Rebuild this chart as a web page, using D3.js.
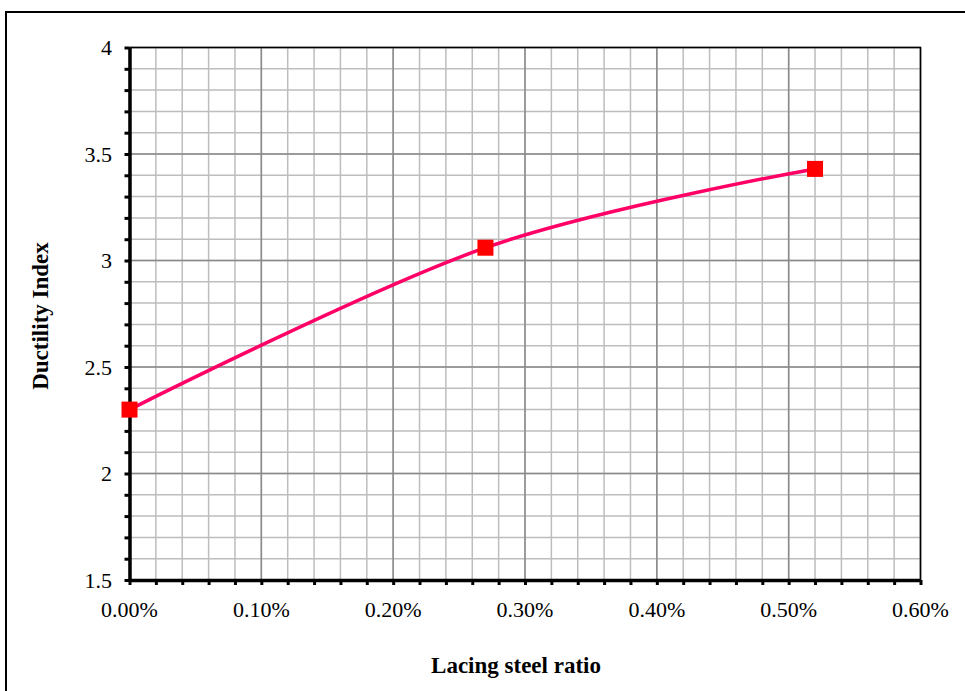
<!DOCTYPE html>
<html>
<head>
<meta charset="utf-8">
<script src="https://cdn.jsdelivr.net/npm/d3@7"></script>
<style>
  html, body { margin: 0; padding: 0; background: #fff; }
  svg { display: block; }
</style>
</head>
<body>
<svg id="chart" width="965" height="691"></svg>
<script>
// Lacing steel ratio (fraction) vs ductility index
const ratios = [0.0, 0.0027, 0.0052];
const ductility = [2.30, 3.06, 3.43];
const xTicks = [0, 0.001, 0.002, 0.003, 0.004, 0.005, 0.006];
const yTicks = [1.5, 2, 2.5, 3, 3.5, 4];
const xTitle = "Lacing steel ratio";
const yTitle = "Ductility Index";

const svg = d3.select("#chart");
const font = "'Liberation Serif', 'Times New Roman', serif";

// outer frame
svg.append("rect")
  .attr("x", 6).attr("y", 12).attr("width", 980).attr("height", 700)
  .attr("fill", "none").attr("stroke", "#000").attr("stroke-width", 2);

const plotL = 129.5, plotR = 920.5, plotT = 47.5, plotB = 580;
const x = d3.scaleLinear().domain([0, 0.006]).range([plotL, plotR]);
const y = d3.scaleLinear().domain([1.5, 4]).range([plotB, plotT]);

const minorX = d3.range(0, 0.00601, 0.0002);
const minorY = d3.range(1.5, 4.001, 0.1);

const grid = svg.append("g");
// minor grid
grid.append("g").selectAll("line").data(minorX).join("line")
  .attr("x1", d => x(d)).attr("x2", d => x(d))
  .attr("y1", plotT).attr("y2", plotB)
  .attr("stroke", "#bdbdbd").attr("stroke-width", 1.5);
grid.append("g").selectAll("line").data(minorY).join("line")
  .attr("y1", d => y(d)).attr("y2", d => y(d))
  .attr("x1", plotL).attr("x2", plotR)
  .attr("stroke", "#bdbdbd").attr("stroke-width", 1.5);
// major grid
grid.append("g").selectAll("line").data(xTicks).join("line")
  .attr("x1", d => x(d)).attr("x2", d => x(d))
  .attr("y1", plotT).attr("y2", plotB)
  .attr("stroke", "#8a8a8a").attr("stroke-width", 1.5);
grid.append("g").selectAll("line").data(yTicks).join("line")
  .attr("y1", d => y(d)).attr("y2", d => y(d))
  .attr("x1", plotL).attr("x2", plotR)
  .attr("stroke", "#8a8a8a").attr("stroke-width", 1.5);

// plot frame top/right
svg.append("path")
  .attr("d", `M${plotL},${plotT}H${plotR}V${plotB}`)
  .attr("fill", "none").attr("stroke", "#000").attr("stroke-width", 1.5);

// x axis
const xAxis = d3.axisBottom(x).tickValues(minorX).tickSize(5).tickSizeOuter(0).tickFormat("");
const gx = svg.append("g").attr("transform", `translate(0,${plotB})`).call(xAxis);
gx.select(".domain").attr("stroke-width", 3.5);
gx.selectAll(".tick line").attr("stroke-width", 3);
svg.append("g").selectAll("text").data(xTicks).join("text")
  .attr("x", d => x(d)).attr("y", 617)
  .attr("text-anchor", "middle")
  .attr("font-family", font).attr("font-size", 22)
  .text(d => d3.format(".2%")(d));

// y axis
const yAxis = d3.axisLeft(y).tickValues(minorY).tickSize(5).tickSizeOuter(0).tickFormat("");
const gy = svg.append("g").attr("transform", `translate(${plotL},0)`).call(yAxis);
gy.select(".domain").attr("stroke-width", 3.5);
gy.selectAll(".tick line").attr("stroke-width", 3);
svg.append("g").selectAll("text").data(yTicks).join("text")
  .attr("x", 112).attr("y", d => y(d) + 7.5)
  .attr("text-anchor", "end")
  .attr("font-family", font).attr("font-size", 22)
  .text(d => d3.format("")(d));

// titles
svg.append("text")
  .attr("x", 516).attr("y", 673)
  .attr("text-anchor", "middle")
  .attr("font-family", font).attr("font-size", 23).attr("font-weight", "bold")
  .text(xTitle);
svg.append("text")
  .attr("transform", "translate(48,316) rotate(-90)")
  .attr("text-anchor", "middle")
  .attr("font-family", font).attr("font-size", 23).attr("font-weight", "bold")
  .text(yTitle);

// smooth line and markers
const pts = ratios.map((r, i) => [r, ductility[i]]);
const line = d3.line().x(d => x(d[0])).y(d => y(d[1])).curve(d3.curveCatmullRom.alpha(0));
svg.append("path").datum(pts)
  .attr("d", line)
  .attr("fill", "none").attr("stroke", "#ff0066").attr("stroke-width", 3.5);

svg.append("g").selectAll("rect").data(pts).join("rect")
  .attr("x", d => x(d[0]) - 8).attr("y", d => y(d[1]) - 8)
  .attr("width", 16).attr("height", 16)
  .attr("fill", "#ff0000");
</script>
</body>
</html>
